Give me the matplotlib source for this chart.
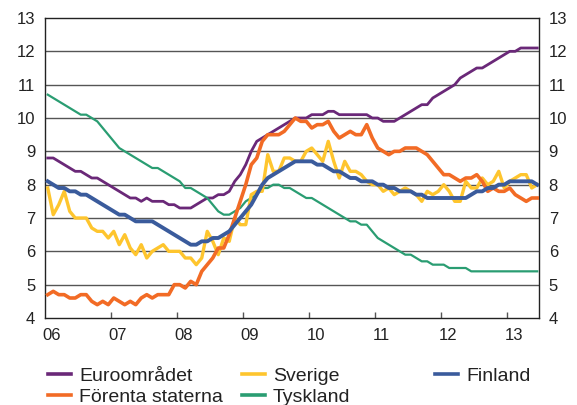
import numpy as np
import matplotlib
matplotlib.use("Agg")
import matplotlib.pyplot as plt

plt.rcParams['font.family'] = ['Liberation Sans', 'DejaVu Sans']

# monthly data, Jan 2006 - Jun 2013
start_year = 2006
euro = [8.8, 8.8, 8.7, 8.6, 8.5, 8.4, 8.4, 8.3, 8.2, 8.2, 8.1, 8.0,
        7.9, 7.8, 7.7, 7.6, 7.6, 7.5, 7.6, 7.5, 7.5, 7.5, 7.4, 7.4,
        7.3, 7.3, 7.3, 7.4, 7.5, 7.6, 7.6, 7.7, 7.7, 7.8, 8.1, 8.3,
        8.6, 9.0, 9.3, 9.4, 9.5, 9.6, 9.7, 9.8, 9.9, 10.0, 10.0, 10.0,
        10.1, 10.1, 10.1, 10.2, 10.2, 10.1, 10.1, 10.1, 10.1, 10.1, 10.1, 10.0,
        10.0, 9.9, 9.9, 9.9, 10.0, 10.1, 10.2, 10.3, 10.4, 10.4, 10.6, 10.7,
        10.8, 10.9, 11.0, 11.2, 11.3, 11.4, 11.5, 11.5, 11.6, 11.7, 11.8, 11.9,
        12.0, 12.0, 12.1, 12.1, 12.1, 12.1]
sverige = [7.9, 7.1, 7.4, 7.8, 7.2, 7.0, 7.0, 7.0, 6.7, 6.6, 6.6, 6.4,
           6.6, 6.2, 6.5, 6.1, 5.9, 6.2, 5.8, 6.0, 6.1, 6.2, 6.0, 6.0,
           6.0, 5.8, 5.8, 5.6, 5.8, 6.6, 6.3, 5.9, 6.4, 6.3, 7.0, 6.8,
           6.8, 7.7, 7.8, 7.8, 8.9, 8.4, 8.4, 8.8, 8.8, 8.7, 8.7, 9.0,
           9.1, 8.9, 8.7, 9.3, 8.7, 8.2, 8.7, 8.4, 8.4, 8.3, 8.1, 8.0,
           8.0, 7.8, 7.9, 7.7, 7.8, 7.9, 7.8, 7.7, 7.5, 7.8, 7.7, 7.8,
           8.0, 7.8, 7.5, 7.5, 8.1, 7.9, 7.9, 8.2, 8.0, 8.1, 8.4, 7.9,
           8.1, 8.2, 8.3, 8.3, 7.9, 8.0]
finland = [8.1, 8.0, 7.9, 7.9, 7.8, 7.8, 7.7, 7.7, 7.6, 7.5, 7.4, 7.3,
           7.2, 7.1, 7.1, 7.0, 6.9, 6.9, 6.9, 6.9, 6.8, 6.7, 6.6, 6.5,
           6.4, 6.3, 6.2, 6.2, 6.3, 6.3, 6.4, 6.4, 6.5, 6.6, 6.8, 7.0,
           7.2, 7.4, 7.7, 8.0, 8.2, 8.3, 8.4, 8.5, 8.6, 8.7, 8.7, 8.7,
           8.7, 8.6, 8.6, 8.5, 8.4, 8.4, 8.3, 8.2, 8.2, 8.1, 8.1, 8.1,
           8.0, 8.0, 7.9, 7.9, 7.8, 7.8, 7.8, 7.7, 7.7, 7.6, 7.6, 7.6,
           7.6, 7.6, 7.6, 7.6, 7.6, 7.7, 7.8, 7.8, 7.9, 7.9, 8.0, 8.0,
           8.1, 8.1, 8.1, 8.1, 8.1, 8.0]
usa = [4.7, 4.8, 4.7, 4.7, 4.6, 4.6, 4.7, 4.7, 4.5, 4.4, 4.5, 4.4,
       4.6, 4.5, 4.4, 4.5, 4.4, 4.6, 4.7, 4.6, 4.7, 4.7, 4.7, 5.0,
       5.0, 4.9, 5.1, 5.0, 5.4, 5.6, 5.8, 6.1, 6.1, 6.5, 7.0, 7.5,
       8.0, 8.6, 8.8, 9.3, 9.5, 9.5, 9.5, 9.6, 9.8, 10.0, 9.9, 9.9,
       9.7, 9.8, 9.8, 9.9, 9.6, 9.4, 9.5, 9.6, 9.5, 9.5, 9.8, 9.4,
       9.1, 9.0, 8.9, 9.0, 9.0, 9.1, 9.1, 9.1, 9.0, 8.9, 8.7, 8.5,
       8.3, 8.3, 8.2, 8.1, 8.2, 8.2, 8.3, 8.1, 7.8, 7.9, 7.8, 7.8,
       7.9, 7.7, 7.6, 7.5, 7.6, 7.6]
tyskland = [10.7, 10.6, 10.5, 10.4, 10.3, 10.2, 10.1, 10.1, 10.0, 9.9, 9.7, 9.5,
            9.3, 9.1, 9.0, 8.9, 8.8, 8.7, 8.6, 8.5, 8.5, 8.4, 8.3, 8.2,
            8.1, 7.9, 7.9, 7.8, 7.7, 7.6, 7.4, 7.2, 7.1, 7.1, 7.2, 7.3,
            7.5, 7.6, 7.7, 7.9, 7.9, 8.0, 8.0, 7.9, 7.9, 7.8, 7.7, 7.6,
            7.6, 7.5, 7.4, 7.3, 7.2, 7.1, 7.0, 6.9, 6.9, 6.8, 6.8, 6.6,
            6.4, 6.3, 6.2, 6.1, 6.0, 5.9, 5.9, 5.8, 5.7, 5.7, 5.6, 5.6,
            5.6, 5.5, 5.5, 5.5, 5.5, 5.4, 5.4, 5.4, 5.4, 5.4, 5.4, 5.4,
            5.4, 5.4, 5.4, 5.4, 5.4, 5.4]

years = list(range(2006, 2014))
year_labels = ['06', '07', '08', '09', '10', '11', '12', '13']

x = start_year + (np.arange(len(euro)) + 0.5) / 12

fig = plt.figure(figsize=(5.77, 4.05), dpi=100)
ax = fig.add_axes([45 / 577, 1 - 318 / 405, 494 / 577, 300 / 405])

# grid lines first, under the series
for v in range(5, 13):
    ax.axhline(v, color='#555555', lw=1.0, zorder=1)

l_euro, = ax.plot(x, euro, color='#6a2878', lw=2.0, zorder=3)
l_tysk, = ax.plot(x, tyskland, color='#2a9d72', lw=1.6, zorder=3)
l_sve, = ax.plot(x, sverige, color='#fec52e', lw=2.4, zorder=4)
l_usa, = ax.plot(x, usa, color='#f26b25', lw=2.6, zorder=5)
l_fin, = ax.plot(x, finland, color='#3a5b9c', lw=2.8, zorder=6)

ax.set_ylim(4, 13)
ax.set_xlim(2006, 2006 + 494 / 66)
ax.set_yticks(range(4, 14))
ax.tick_params(axis='y', length=0, pad=7, labelsize=12, labelcolor='#222222',
               labelright=True, right=False)

ax.set_xticks(years[1:])
ax.tick_params(axis='x', which='major', direction='in', length=4, width=1,
               color='#555555', labelbottom=False)
ax.set_xticks([y + 0.1 for y in years], minor=True)
ax.set_xticklabels(year_labels, minor=True)
ax.tick_params(axis='x', which='minor', length=0, pad=7, labelsize=12,
               labelcolor='#222222')

for s in ax.spines.values():
    s.set_color('#222222')
    s.set_linewidth(1.0)

# legend in three columns
leg_kw = dict(frameon=False, fontsize=14, handlelength=1.2, handletextpad=0.4,
              labelspacing=0.2, borderpad=0, borderaxespad=0, loc='upper left')
top = 1 - 367 / 405
leg1 = fig.legend([l_euro, l_usa], ['Euroområdet', 'Förenta staterna'],
                  bbox_to_anchor=(48 / 577, top), **leg_kw)
leg2 = fig.legend([l_sve, l_tysk], ['Sverige', 'Tyskland'],
                  bbox_to_anchor=(242 / 577, top), **leg_kw)
leg3 = fig.legend([l_fin], ['Finland'],
                  bbox_to_anchor=(435 / 577, top), **leg_kw)
for leg in (leg1, leg2, leg3):
    for t in leg.get_texts():
        t.set_color('#222222')
    for h in leg.get_lines():
        h.set_linewidth(2.6)

fig.savefig('out.png', dpi=100)
